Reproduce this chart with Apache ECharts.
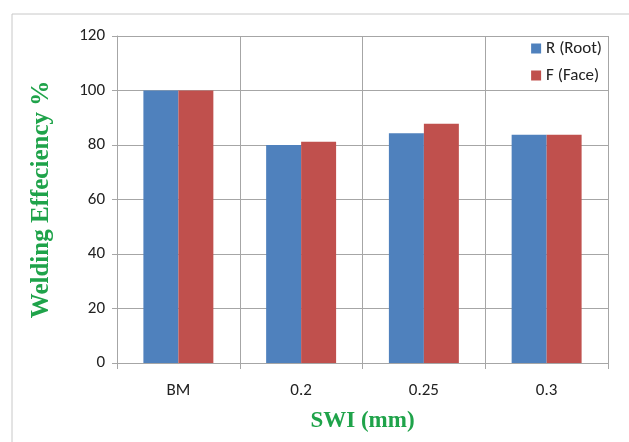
<!DOCTYPE html>
<html>
<head>
<meta charset="utf-8">
<script src="https://cdn.jsdelivr.net/npm/echarts@6/dist/echarts.min.js"></script>
<style>
html,body{margin:0;padding:0;background:#fff;}
#chart{width:629px;height:442px;}
</style>
</head>
<body>
<div id="chart"></div>
<script>
var categories = ['BM', '0.2', '0.25', '0.3'];
var rootValues = [100, 80, 84.3, 83.8];
var faceValues = [100, 81.2, 87.8, 83.8];
var seriesNames = ['R (Root)', 'F (Face)'];

(function(){
    var chart = echarts.init(document.getElementById('chart'));
    var gridColor = '#a6a6a6';
    var green = '#1fa34a';
    var labelFont = 'Calibri, Carlito, "Liberation Sans Narrow", Lato, sans-serif';
    var titleFont = '"Liberation Serif", "Times New Roman", serif';
    var option = {
        animation: false,
        graphic: [{
            type: 'rect',
            shape: {x: 12, y: 14, width: 640, height: 440},
            style: {fill: 'none', stroke: '#c8c8c8', lineWidth: 1}
        }],
        grid: {left: 117, right: 21, top: 36, bottom: 79},
        legend: {
            orient: 'vertical',
            right: 22,
            top: 35,
            itemWidth: 10,
            itemHeight: 10,
            itemGap: 10,
            icon: 'rect',
            textStyle: {fontSize: 17, color: '#222', fontFamily: labelFont},
            data: seriesNames
        },
        xAxis: {
            type: 'category',
            data: categories,
            name: 'SWI (mm)',
            nameLocation: 'middle',
            nameGap: 47,
            nameTextStyle: {fontSize: 23, fontWeight: 'bold', color: green, fontFamily: titleFont},
            axisLine: {lineStyle: {color: gridColor}},
            axisTick: {show: true, length: 6, lineStyle: {color: gridColor}},
            axisLabel: {fontSize: 17, color: '#222', margin: 19, fontFamily: labelFont},
            splitLine: {show: true, lineStyle: {color: gridColor}}
        },
        yAxis: {
            type: 'value',
            min: 0,
            max: 120,
            interval: 20,
            name: 'Welding Effeciency %',
            nameLocation: 'middle',
            nameGap: 63,
            nameTextStyle: {fontSize: 25, fontWeight: 'bold', color: green, fontFamily: titleFont},
            axisLine: {show: true, lineStyle: {color: gridColor}},
            axisTick: {show: true, length: 5, lineStyle: {color: gridColor}},
            axisLabel: {fontSize: 17, color: '#222', margin: 12, fontFamily: labelFont},
            splitLine: {show: true, lineStyle: {color: gridColor}}
        },
        series: [
            {name: seriesNames[0], type: 'bar', data: rootValues, barGap: 0, barCategoryGap: '43%', itemStyle: {color: '#4f81bd'}},
            {name: seriesNames[1], type: 'bar', data: faceValues, itemStyle: {color: '#c0504d'}}
        ]
    };
    chart.setOption(option);
})();
</script>
</body>
</html>
